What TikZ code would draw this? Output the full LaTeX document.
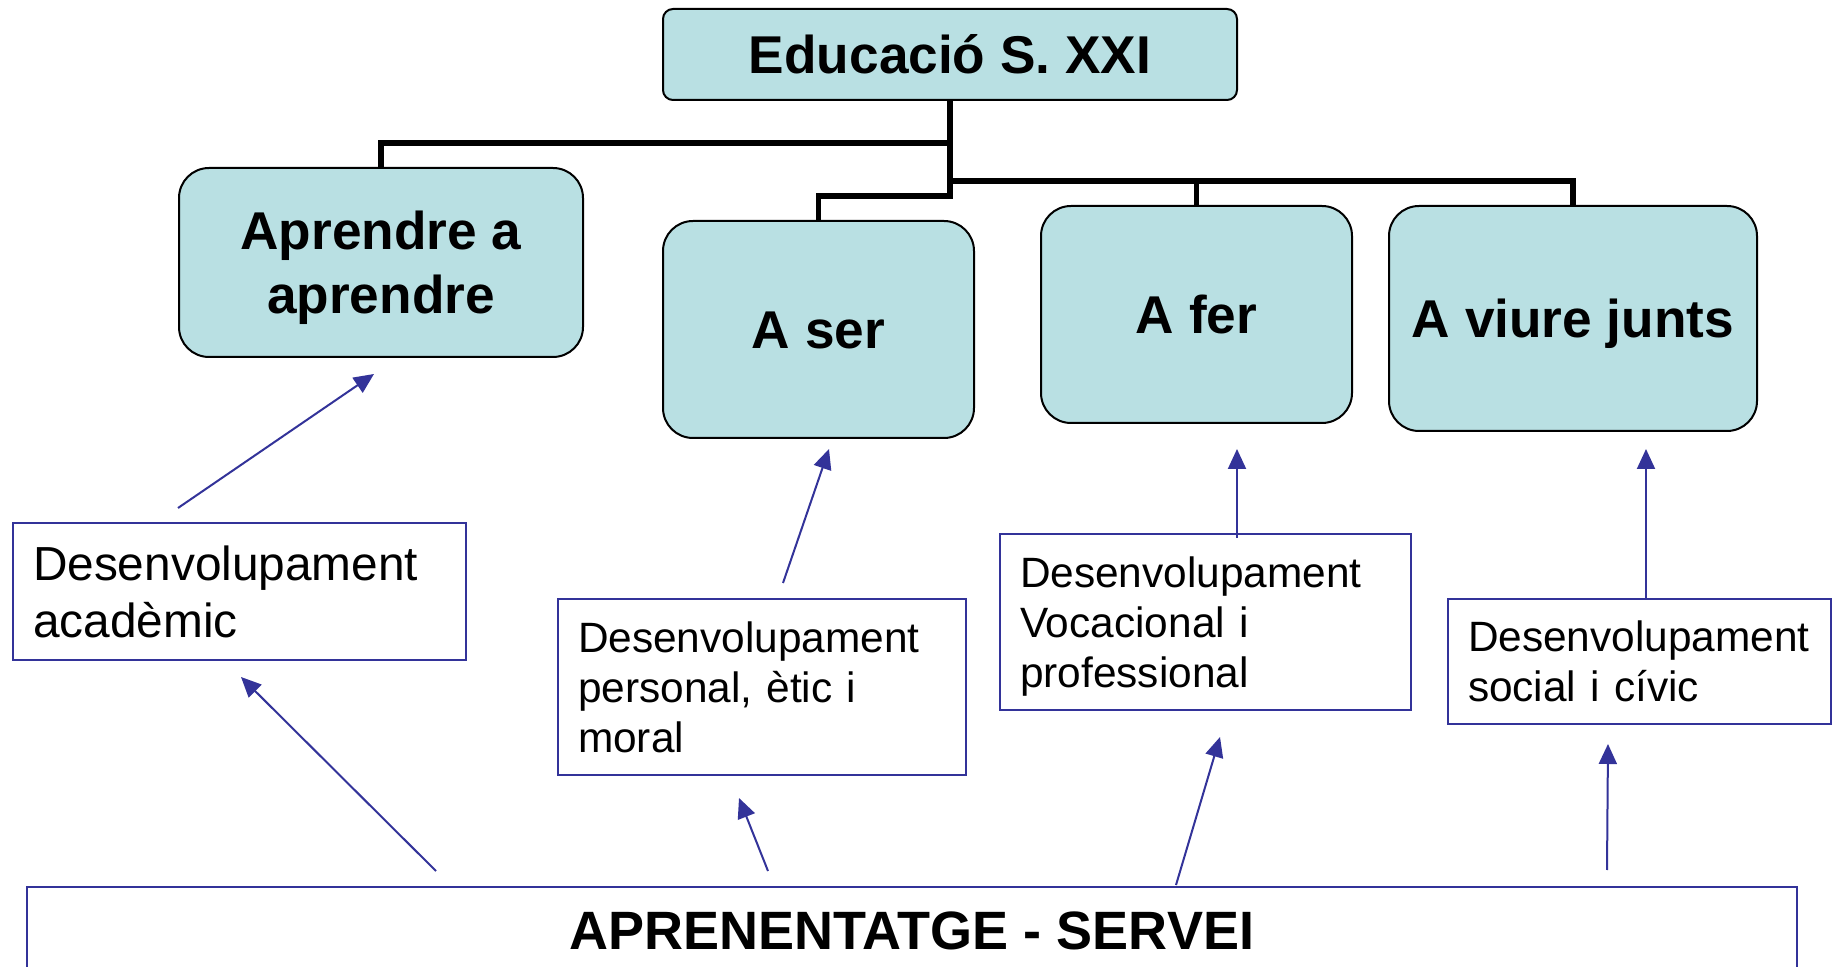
\documentclass[tikz,border=0pt]{standalone}
\usepackage{fontspec}
\setmainfont{Liberation Sans}
\usetikzlibrary{arrows.meta}
\definecolor{pillar}{RGB}{185,224,227}
\definecolor{devblue}{RGB}{51,51,153}

\begin{document}
\begin{tikzpicture}[x=0.5pt,y=-0.5pt,
    pillarbox/.style={draw=black,line width=1pt,fill=pillar,rounded corners=15pt,align=center,inner sep=0pt,text height=19pt,text depth=0pt,font=\fontsize{26.6}{32}\selectfont\bfseries},
    devbox/.style={draw=devblue,line width=1pt,align=left,inner xsep=10pt,inner ysep=0pt,font=\fontsize{21.2}{25}\selectfont},
    tree/.style={line width=2.75pt,black},
    arr/.style={devblue,line width=1pt,-{Triangle[length=10pt,width=9pt]}}]
    \clip (0,0) rectangle (1832,967);
    % the four pillars
    \node[pillarbox,rounded corners=5pt,minimum width=287pt,minimum height=45.5pt] (top) at (950,54.5) {Educació S. XXI};
    \node[pillarbox,text height=51pt,minimum width=202pt,minimum height=94.5pt] (aprendre) at (381,262.5) {Aprendre a\\aprendre};
    \node[pillarbox,minimum width=155.5pt,minimum height=108.5pt] (aser) at (818.5,329.5) {A ser};
    \node[pillarbox,minimum width=155.5pt,minimum height=108.5pt] (afer) at (1196.5,314.5) {A fer};
    \node[pillarbox,minimum width=184pt,minimum height=112.5pt] (aviure) at (1573,318.5) {A viure junts};
    \draw[tree] (top.south) |- ([yshift=12pt]aprendre.north) -- (aprendre.north);
    \draw[tree] (top.south) |- ([yshift=12pt]aser.north) -- (aser.north);
    \draw[tree] (top.south) |- ([yshift=12pt]afer.north) -- (afer.north);
    \draw[tree] ([yshift=12pt]afer.north) -| (aviure.north);
    % development boxes
    \node[devbox,font=\fontsize{23.9}{28.5}\selectfont,text width=206.5pt,minimum height=68.5pt] (acad) at (239.5,591.5) {Desenvolupament\\acadèmic};
    \node[devbox,text width=184pt,minimum height=88pt] (pers) at (762,687) {Desenvolupament\\personal, ètic i\\moral};
    \node[devbox,text width=185.5pt,text depth=50pt,minimum height=88pt] (voc) at (1205.5,622) {Desenvolupament\\Vocacional i\\professional};
    \node[devbox,text width=171.5pt,minimum height=62.5pt] (soc) at (1639.5,661.5) {Desenvolupament\\social i cívic};
    \node[draw=devblue,line width=1pt,minimum width=885pt,minimum height=44pt,inner sep=0pt,font=\fontsize{27}{32}\selectfont\bfseries] (serv) at (912,931) {APRENENTATGE - SERVEI};
    % arrows up
    \draw[arr] ([xshift=-30.75pt,yshift=7pt]acad.north) -- ([xshift=-3.5pt,yshift=-8pt]aprendre.south);
    \draw[arr] ([xshift=10.5pt,yshift=7.5pt]pers.north) -- ([xshift=5.25pt,yshift=-5pt]aser.south);
    \draw[arr] ([xshift=15.75pt,yshift=-2.5pt]voc.north) -- ([xshift=20.25pt,yshift=-12.5pt]afer.south);
    \draw[arr] ([xshift=3.25pt]soc.north) -- ([xshift=36.5pt,yshift=-8.5pt]aviure.south);
    \draw[arr] ([xshift=205pt,yshift=7.5pt]serv.north west) -- ([xshift=0.75pt,yshift=-8pt]acad.south);
    \draw[arr] ([xshift=371pt,yshift=7.5pt]serv.north west) -- ([xshift=-11.5pt,yshift=-11pt]pers.south);
    \draw[arr] ([xshift=575pt,yshift=0.5pt]serv.north west) -- ([xshift=7.25pt,yshift=-13pt]voc.south);
    \draw[arr] ([xshift=790.5pt,yshift=8pt]serv.north west) -- ([xshift=-15.75pt,yshift=-9.5pt]soc.south);
\end{tikzpicture}
\end{document}
